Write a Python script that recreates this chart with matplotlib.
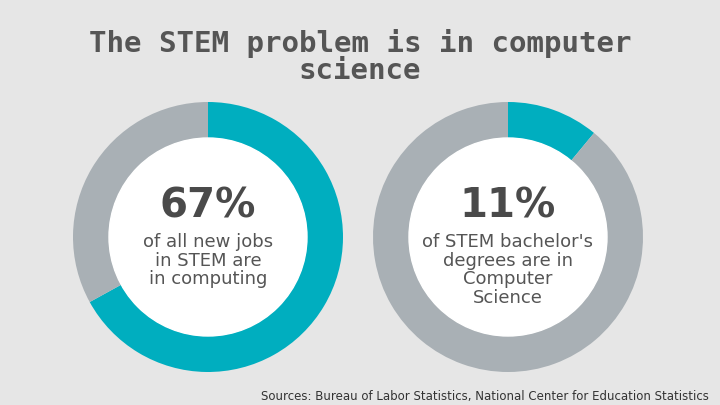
import matplotlib
matplotlib.use("Agg")
import matplotlib.pyplot as plt

title = "The STEM problem is in computer\nscience"
shares = [67, 11]
big_labels = ["67%", "11%"]
captions = ["of all new jobs\nin STEM are\nin computing", "of STEM bachelor's\ndegrees are in\nComputer\nScience"]
source = "Sources: Bureau of Labor Statistics, National Center for Education Statistics"

teal = "#00aebf"
gray = "#a9b0b5"
bg = "#e6e6e6"

fig = plt.figure(figsize=(7.2, 4.05), dpi=100, facecolor=bg)
ax = fig.add_axes([0, 0, 1, 1])
ax.set_facecolor(bg)
ax.set_xlim(0, 720); ax.set_ylim(0, 405); ax.set_aspect("equal"); ax.axis("off")

centers = [(208, 405 - 237), (508, 405 - 237)]
R = 135
for (cx, cy), s, bl, cap in zip(centers, shares, big_labels, captions):
    ax.pie([s, 100 - s], colors=[teal, gray], startangle=90, counterclock=False,
           center=(cx, cy), radius=R, wedgeprops=dict(width=36, edgecolor="none"))
    ax.add_patch(plt.Circle((cx, cy), R - 36, color="white", zorder=3))
    ax.text(cx, cy + 30, bl, ha="center", va="center", fontsize=29, fontweight="bold",
            color="#4a4a4a", zorder=4)
    ax.text(cx, cy + 4, cap, ha="center", va="top", fontsize=13, color="#555555",
            linespacing=1.05, zorder=4)
ax.set_xlim(0, 720); ax.set_ylim(0, 405); ax.set_aspect("equal")

fig.text(0.5, 0.86, title, ha="center", va="center", fontsize=21, fontweight="bold",
         color="#555555", family="DejaVu Sans Mono", linespacing=0.95)
fig.text(0.985, 0.02, source, ha="right", va="center", fontsize=8.5, color="#333333")
fig.savefig("out.png", dpi=100, facecolor=bg)
